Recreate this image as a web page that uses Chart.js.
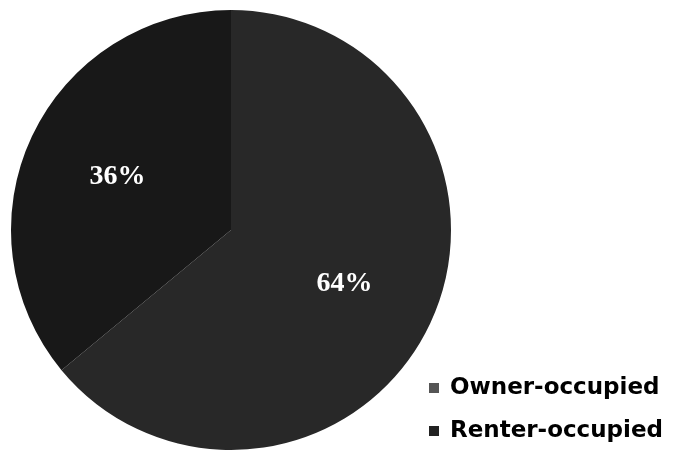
<!DOCTYPE html>
<html>
<head>
<meta charset="utf-8">
<script src="https://cdn.jsdelivr.net/npm/chart.js@4/dist/chart.umd.min.js"></script>
<style>
  html, body { margin: 0; padding: 0; background: #fff; }
  #wrap { width: 678px; height: 452px; position: relative; }
</style>
</head>
<body>
<div id="wrap"><canvas id="grafico" width="678" height="452"></canvas></div>
<script>
const categorias = ["Owner-occupied", "Renter-occupied"];
const valores = [64, 36];
const cores = ["#282828", "#181818"];
const coresLegenda = ["#555555", "#222222"];

// rótulos de porcentagem dentro das fatias
const rotulos = {
  id: "rotulos",
  afterDatasetsDraw(chart) {
    const ctx = chart.ctx;
    const meta = chart.getDatasetMeta(0);
    const total = valores.reduce((s, v) => s + v, 0);
    ctx.save();
    ctx.fillStyle = "#ffffff";
    ctx.font = "bold 28px 'Liberation Serif', serif";
    ctx.textAlign = "center";
    ctx.textBaseline = "middle";
    meta.data.forEach((arc, i) => {
      const p = arc.getProps(["x", "y", "startAngle", "endAngle", "outerRadius"], true);
      const meio = (p.startAngle + p.endAngle) / 2;
      const r = p.outerRadius * 0.57;
      const txt = Math.round(valores[i] / total * 100) + "%";
      ctx.fillText(txt, p.x + Math.cos(meio) * r, p.y + Math.sin(meio) * r);
    });
    ctx.restore();
  }
};

// legenda no canto inferior direito
const legenda = {
  id: "legenda",
  afterDraw(chart) {
    const ctx = chart.ctx;
    ctx.save();
    ctx.font = "bold 23px 'DejaVu Sans', sans-serif";
    ctx.textBaseline = "middle";
    ctx.textAlign = "left";
    categorias.forEach((nome, i) => {
      const y = 388 + i * 43;
      ctx.fillStyle = coresLegenda[i];
      ctx.fillRect(429, y - 5, 10, 10);
      ctx.fillStyle = "#000000";
      ctx.fillText(nome, 450, y);
    });
    ctx.restore();
  }
};

const grafico = new Chart(document.getElementById("grafico"), {
  type: "pie",
  data: {
    labels: categorias,
    datasets: [{
      data: valores,
      backgroundColor: cores,
      borderWidth: 0
    }]
  },
  options: {
    responsive: false,
    animation: false,
    layout: { padding: { left: 11, right: 227, top: 10, bottom: 2 } },
    plugins: {
      legend: { display: false },
      tooltip: { enabled: false }
    }
  },
  plugins: [rotulos, legenda]
});
</script>
</body>
</html>
